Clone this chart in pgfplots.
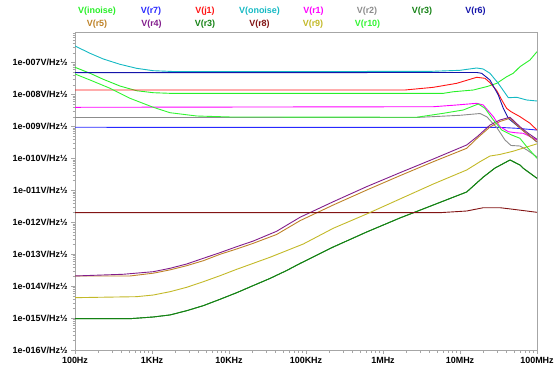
\documentclass[border=0pt]{standalone}
\usepackage{fontspec}
\setmainfont{Liberation Sans}
\usepackage{pgfplots}
\pgfplotsset{compat=1.18}
\definecolor{cInoise}{RGB}{40,240,40}
\definecolor{cRseven}{RGB}{40,40,255}
\definecolor{cJone}{RGB}{255,20,20}
\definecolor{cOnoise}{RGB}{20,185,195}
\definecolor{cRone}{RGB}{255,0,255}
\definecolor{cRtwo}{RGB}{140,140,140}
\definecolor{cRthree}{RGB}{20,130,20}
\definecolor{cRsix}{RGB}{20,20,170}
\definecolor{cRfive}{RGB}{190,130,40}
\definecolor{cRfour}{RGB}{130,30,140}
\definecolor{cReight}{RGB}{130,20,20}
\definecolor{cRnine}{RGB}{195,185,40}
\definecolor{cRten}{RGB}{50,245,50}
\begin{document}
\begin{tikzpicture}[x=1bp,y=1bp]
\useasboundingbox (0,0) rectangle (554,371);
\begin{axis}[
  at={(75bp,21bp)}, anchor=south west,
  scale only axis, width=462bp, height=318bp,
  xmode=log, ymode=log,
  xmin=100, xmax=1e8, ymin=1e-16, ymax=8.87e-7,
  xtick={1e2,1e3,1e4,1e5,1e6,1e7,1e8},
  xticklabels={100Hz,1KHz,10KHz,100KHz,1MHz,10MHz,100MHz},
  ytick={1e-16,1e-15,1e-14,1e-13,1e-12,1e-11,1e-10,1e-9,1e-8,1e-7},
  yticklabels={1e-016V/Hz½,1e-015V/Hz½,1e-014V/Hz½,1e-013V/Hz½,1e-012V/Hz½,1e-011V/Hz½,1e-010V/Hz½,1e-009V/Hz½,1e-008V/Hz½,1e-007V/Hz½},
  minor xtick={200,300,400,500,600,700,800,900,2000,3000,4000,5000,6000,7000,8000,9000,2e4,3e4,4e4,5e4,6e4,7e4,8e4,9e4,2e5,3e5,4e5,5e5,6e5,7e5,8e5,9e5,2e6,3e6,4e6,5e6,6e6,7e6,8e6,9e6,2e7,3e7,4e7,5e7,6e7,7e7,8e7,9e7},
  minor ytick={2e-16,3e-16,4e-16,5e-16,6e-16,7e-16,8e-16,9e-16,2e-15,3e-15,4e-15,5e-15,6e-15,7e-15,8e-15,9e-15,2e-14,3e-14,4e-14,5e-14,6e-14,7e-14,8e-14,9e-14,2e-13,3e-13,4e-13,5e-13,6e-13,7e-13,8e-13,9e-13,2e-12,3e-12,4e-12,5e-12,6e-12,7e-12,8e-12,9e-12,2e-11,3e-11,4e-11,5e-11,6e-11,7e-11,8e-11,9e-11,2e-10,3e-10,4e-10,5e-10,6e-10,7e-10,8e-10,9e-10,2e-9,3e-9,4e-9,5e-9,6e-9,7e-9,8e-9,9e-9,2e-8,3e-8,4e-8,5e-8,6e-8,7e-8,8e-8,9e-8,2e-7,3e-7,4e-7,5e-7,6e-7,7e-7,8e-7},
  tick pos=left, tick align=outside,
  major tick length=4bp, minor tick length=2.5bp,
  axis line style={draw=black!35},
  tick style={draw=black!35},
  ticklabel style={font=\fontsize{9}{10}\selectfont\bfseries, text=black},
  every axis plot/.append style={line width=0.9bp, mark=none, line join=round},
]
% V(inoise)
\addplot[cInoise] coordinates {(100,6.98e-8) (157,4.53e-8) (233,2.94e-8) (384,1.81e-8) (632,1.29e-8) (1040,1.12e-8) (1714,1.07e-8) (6.07e6,1.07e-8) (8.19e6,1.20e-8) (1.49e7,1.36e-8) (2.22e7,1.73e-8) (3.0e7,2.20e-8) (4.04e7,3.55e-8) (4.92e7,4.53e-8) (6.0e7,7.28e-8) (8.1e7,1.18e-7) (1e8,2.15e-7)};
% V(r7)
\addplot[cRseven] coordinates {(100,9.27e-10) (3.3e7,9.2e-10) (5.45e7,8.63e-10) (1e8,7.62e-10)};
% V(j1)
\addplot[cJone] coordinates {(100,1.36e-8) (1.93e6,1.36e-8) (4.5e6,1.65e-8) (9.06e6,2.20e-8) (1.65e7,3.40e-8) (2.11e7,3.16e-8) (2.45e7,2.3e-8) (3.0e7,1.3e-8) (3.5e7,6.5e-9) (4.04e7,3.6e-9) (4.6e7,2.85e-9) (6.0e7,2.0e-9) (8.1e7,1.24e-9) (1e8,7.6e-10)};
% V(onoise)
\addplot[cOnoise] coordinates {(100,3.24e-7) (157,1.91e-7) (233,1.27e-7) (384,8.66e-8) (632,6.48e-8) (1040,5.46e-8) (2090,5.1e-8) (4.07e6,5.2e-8) (1.0e7,5.62e-8) (1.65e7,6.64e-8) (2.0e7,6.17e-8) (2.45e7,4.53e-8) (3.14e7,2.20e-8) (4.24e7,7.81e-9) (5.45e7,8.04e-9) (7.35e7,6.62e-9) (1e8,6.16e-9)};
% V(r1)
\addplot[cRone] coordinates {(100,3.91e-9) (4.5e6,4.08e-9) (9.06e6,4.62e-9) (1.65e7,5.22e-9) (2.0e7,4.62e-9) (2.71e7,1.99e-9) (3.3e7,9.68e-10) (4.24e7,6.75e-10) (5.18e7,6.28e-10) (6.64e7,6.01e-10) (1e8,3.72e-10)};
% V(r2)
\addplot[cRtwo] coordinates {(100,1.88e-9) (2.74e6,1.88e-9) (1e7,2.20e-9) (1.82e7,2.50e-9) (2.24e7,1.95e-9) (3.03e7,8.81e-10) (3.84e7,3.72e-10) (4.59e7,2.50e-10) (6.0e7,2.41e-10) (7.41e7,1.81e-10) (1e8,1.09e-10)};
% V(r3)
\addplot[cRthree] coordinates {(100,9.55e-16) (518,9.55e-16) (1040,1.08e-15) (1714,1.25e-15) (2825,1.70e-15) (4640,2.44e-15) (7640,3.86e-15) (1.26e4,6.21e-15) (2.07e4,1.04e-14) (3.40e4,1.73e-14) (5.61e4,3.07e-14) (8.36e4,5.09e-14) (2.26e5,1.67e-13) (6.14e5,4.92e-13) (1.66e6,1.35e-12) (4.5e6,3.44e-12) (1.22e7,8.77e-12) (2.01e7,2.58e-11) (2.85e7,4.94e-11) (4.46e7,8.79e-11) (6.0e7,6.14e-11) (6.64e7,4.83e-11) (1e8,2.35e-11)};
% V(r6)
\addplot[cRsix] coordinates {(100,4.73e-8) (1.65e7,4.8e-8) (1.91e7,4.53e-8) (2.45e7,2.79e-8) (3.14e7,9.48e-9) (3.65e7,3.64e-9) (4.24e7,1.77e-9) (6.0e7,8.81e-10) (1e8,3.21e-10)};
% V(r5)
\addplot[cRfive] coordinates {(100,2.07e-14) (518,2.07e-14) (1040,2.53e-14) (1714,3.21e-14) (2825,4.35e-14) (4640,6.22e-14) (7640,9.86e-14) (1.26e4,1.45e-13) (2.07e4,2.18e-13) (4.16e4,4.12e-13) (8.36e4,1.11e-12) (2.26e5,3.44e-12) (6.14e5,1.01e-11) (1.66e6,2.84e-11) (4.5e6,7.78e-11) (1.22e7,2.04e-10) (1.71e7,4.45e-10) (2.45e7,9.46e-10) (3.3e7,1.41e-9) (4.46e7,1.77e-9) (6.0e7,8.81e-10) (7.7e7,5.32e-10) (1e8,3.28e-10)};
% V(r4)
\addplot[cRfour] coordinates {(100,2.07e-14) (424,2.34e-14) (1040,2.82e-14) (1714,3.60e-14) (2825,4.91e-14) (4640,7.40e-14) (7640,1.11e-13) (1.26e4,1.71e-13) (2.07e4,2.57e-13) (4.16e4,5.19e-13) (8.36e4,1.42e-12) (2.26e5,4.36e-12) (6.14e5,1.29e-11) (1.66e6,3.52e-11) (4.5e6,9.44e-11) (1.22e7,2.59e-10) (1.71e7,4.95e-10) (2.45e7,1.09e-9) (3.3e7,1.57e-9) (4.46e7,1.91e-9) (6.0e7,9.68e-10) (7.7e7,6.01e-10) (1e8,3.90e-10)};
% V(r3) (second entry)
\addplot[cRthree] coordinates {(100,9.55e-16) (518,9.55e-16) (1040,1.08e-15) (1714,1.25e-15) (2825,1.70e-15) (4640,2.44e-15) (7640,3.86e-15) (1.26e4,6.21e-15) (2.07e4,1.04e-14) (3.40e4,1.73e-14) (5.61e4,3.07e-14) (8.36e4,5.09e-14) (2.26e5,1.67e-13) (6.14e5,4.92e-13) (1.66e6,1.35e-12) (4.5e6,3.44e-12) (1.22e7,8.77e-12) (2.01e7,2.58e-11) (2.85e7,4.94e-11) (4.46e7,8.79e-11) (6.0e7,6.14e-11) (6.64e7,4.83e-11) (1e8,2.35e-11)};
% V(r8)
\addplot[cReight] coordinates {(100,1.98e-12) (5.5e6,1.98e-12) (1.22e7,2.23e-12) (2.01e7,2.83e-12) (3.3e7,2.83e-12) (4.92e7,2.52e-12) (1e8,2.03e-12)};
% V(r9)
\addplot[cRnine] coordinates {(100,4.34e-15) (632,4.66e-15) (1040,5.26e-15) (1714,6.67e-15) (2825,9.16e-15) (4640,1.37e-14) (7640,2.11e-14) (1.26e4,3.35e-14) (2.07e4,5.16e-14) (3.40e4,7.95e-14) (9.22e4,2.07e-13) (2.26e5,6.43e-13) (6.14e5,1.80e-12) (1.66e6,5.30e-12) (4.5e6,1.56e-11) (1.22e7,4.28e-11) (1.82e7,7.78e-11) (2.45e7,1.17e-10) (3.3e7,1.31e-10) (4.92e7,1.66e-10) (1e8,2.82e-10)};
% V(r10)
\addplot[cRten] coordinates {(100,4.31e-8) (157,2.79e-8) (285,1.54e-8) (518,7.48e-9) (1040,3.91e-9) (1714,2.65e-9) (3810,2.09e-9) (1.03e4,1.95e-9) (2.74e6,1.91e-9) (6.07e6,2.54e-9) (1.1e7,3.22e-9) (1.73e7,4.97e-9) (2.11e7,3.64e-9) (2.71e7,1.57e-9) (3.48e7,7.62e-10) (4.69e7,5.32e-10) (6.0e7,4.20e-10) (7.35e7,2.29e-10) (1e8,9.93e-11)};
\end{axis}
\tikzset{lg/.style={font=\fontsize{9}{10}\selectfont\bfseries, inner sep=0pt}}
\node[lg, text=cInoise] at (97,360) {V(inoise)};
\node[lg, text=cRseven] at (151,360) {V(r7)};
\node[lg, text=cJone] at (205,360) {V(j1)};
\node[lg, text=cOnoise] at (259.5,360) {V(onoise)};
\node[lg, text=cRone] at (313.5,360) {V(r1)};
\node[lg, text=cRtwo] at (367,360) {V(r2)};
\node[lg, text=cRthree] at (422,360) {V(r3)};
\node[lg, text=cRsix] at (475.5,360) {V(r6)};
\node[lg, text=cRfive] at (97,347) {V(r5)};
\node[lg, text=cRfour] at (151.5,347) {V(r4)};
\node[lg, text=cRthree] at (205,347) {V(r3)};
\node[lg, text=cReight] at (259.5,347) {V(r8)};
\node[lg, text=cRnine] at (313,347) {V(r9)};
\node[lg, text=cRten] at (367.5,347) {V(r10)};
\end{tikzpicture}
\end{document}
